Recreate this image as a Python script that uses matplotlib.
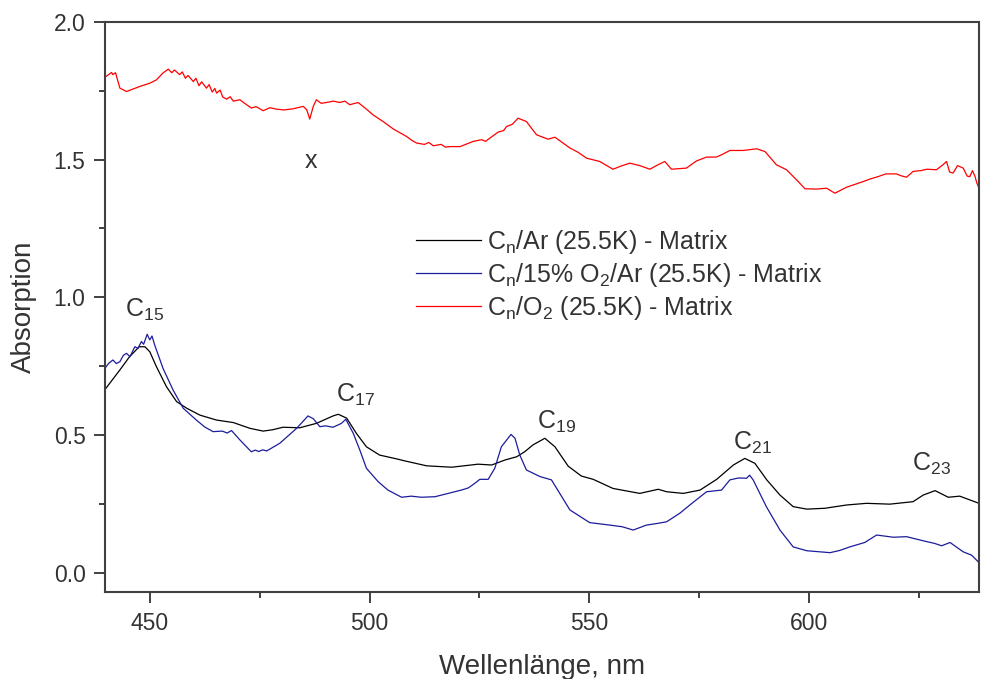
import numpy as np
import matplotlib
matplotlib.use("Agg")
import matplotlib.pyplot as plt

# Spektren (Wellenlaenge nm, Absorption)
ar_matrix = [
    (440.0, 0.670), (443.2, 0.737), (445.4, 0.785), (447.6, 0.821), (448.9, 0.821),
    (450.0, 0.803), (451.5, 0.749), (453.8, 0.676), (456.1, 0.622), (458.4, 0.598),
    (461.4, 0.573), (465.2, 0.555), (469.0, 0.546), (472.8, 0.525), (475.8, 0.515),
    (478.0, 0.520), (480.3, 0.529), (484.1, 0.527), (487.9, 0.543), (491.7, 0.570),
    (492.9, 0.576), (494.8, 0.562), (497.0, 0.507), (499.3, 0.458), (502.3, 0.428),
    (506.5, 0.413), (508.0, 0.407), (513.0, 0.389), (518.7, 0.384), (522.0, 0.390),
    (524.7, 0.395), (527.8, 0.392), (530.8, 0.410), (533.5, 0.422), (535.3, 0.440),
    (537.2, 0.465), (539.9, 0.489), (542.2, 0.458), (545.2, 0.388), (548.2, 0.352),
    (550.9, 0.340), (555.4, 0.307), (561.5, 0.289), (565.7, 0.304), (567.6, 0.295),
    (571.4, 0.289), (575.2, 0.301), (579.0, 0.340), (582.8, 0.392), (585.4, 0.416),
    (587.7, 0.398), (590.4, 0.338), (593.4, 0.283), (596.4, 0.241), (599.5, 0.232),
    (603.6, 0.235), (608.6, 0.247), (613.1, 0.253), (618.4, 0.250), (623.7, 0.259),
    (626.0, 0.283), (628.7, 0.299), (631.7, 0.275), (634.3, 0.279), (638.7, 0.253),
]

o2_15_ar_matrix = [
    (439.8, 0.743), (440.6, 0.760), (441.6, 0.773), (442.4, 0.760), (443.2, 0.767),
    (444.0, 0.790), (444.7, 0.797), (445.5, 0.785), (446.6, 0.821), (447.3, 0.815),
    (448.1, 0.840), (448.6, 0.830), (449.4, 0.866), (450.0, 0.846), (450.5, 0.860),
    (451.1, 0.828), (453.0, 0.743), (455.3, 0.664), (457.6, 0.598), (460.6, 0.555),
    (462.5, 0.530), (464.4, 0.513), (466.5, 0.515), (467.6, 0.508), (468.6, 0.517),
    (470.5, 0.483), (473.1, 0.440), (474.0, 0.446), (474.8, 0.441), (475.7, 0.447),
    (476.6, 0.443), (479.6, 0.471), (483.4, 0.525), (486.0, 0.570), (487.2, 0.560),
    (488.7, 0.531), (490.0, 0.534), (491.7, 0.529), (493.6, 0.543), (494.6, 0.558),
    (496.3, 0.507), (497.8, 0.446), (499.3, 0.380), (502.0, 0.331), (504.2, 0.301),
    (507.3, 0.275), (509.5, 0.279), (511.8, 0.275), (514.9, 0.277), (517.9, 0.289),
    (520.9, 0.301), (522.5, 0.309), (524.0, 0.326), (525.1, 0.340), (527.0, 0.340),
    (528.5, 0.380), (530.0, 0.458), (532.2, 0.503), (533.1, 0.489), (534.2, 0.428),
    (535.7, 0.374), (538.8, 0.350), (541.4, 0.338), (545.6, 0.229), (550.1, 0.183),
    (554.7, 0.174), (557.5, 0.168), (560.0, 0.156), (563.0, 0.174), (565.5, 0.180),
    (567.6, 0.186), (570.6, 0.217), (572.9, 0.247), (576.7, 0.295), (580.1, 0.301),
    (582.0, 0.338), (584.0, 0.345), (585.8, 0.344), (586.5, 0.355), (587.3, 0.338),
    (590.3, 0.241), (593.4, 0.156), (596.4, 0.095), (599.5, 0.081), (604.8, 0.074),
    (607.0, 0.082), (609.3, 0.095), (612.7, 0.111), (615.4, 0.138), (619.2, 0.130),
    (622.2, 0.132), (626.8, 0.114), (628.5, 0.108), (630.2, 0.099), (632.1, 0.111),
    (633.5, 0.095), (635.1, 0.077), (637.0, 0.065), (638.7, 0.038),
]

o2_matrix = [
    (440.0, 1.801), (441.3, 1.816), (441.6, 1.808), (442.2, 1.815), (443.2, 1.759),
    (444.7, 1.747), (446.2, 1.756), (447.7, 1.765), (450.0, 1.777), (451.5, 1.789),
    (453.0, 1.814), (454.2, 1.828), (455.0, 1.815), (455.6, 1.825), (456.8, 1.808),
    (457.4, 1.818), (458.1, 1.795), (458.7, 1.805), (459.9, 1.783), (460.5, 1.795),
    (461.2, 1.768), (461.8, 1.782), (462.9, 1.759), (463.5, 1.772), (464.2, 1.745),
    (464.8, 1.758), (465.2, 1.741), (466.0, 1.752), (466.6, 1.727), (467.5, 1.719),
    (468.3, 1.728), (469.0, 1.712), (470.5, 1.717), (471.5, 1.705), (473.1, 1.687),
    (474.2, 1.692), (475.8, 1.677), (477.3, 1.688), (478.8, 1.683), (480.5, 1.680),
    (482.6, 1.684), (484.9, 1.693), (485.7, 1.681), (486.4, 1.647), (487.2, 1.693),
    (487.9, 1.717), (489.0, 1.704), (490.2, 1.707), (491.8, 1.712), (493.2, 1.707),
    (494.4, 1.712), (495.5, 1.699), (497.4, 1.707), (499.3, 1.683), (500.8, 1.662),
    (503.1, 1.638), (505.4, 1.611), (508.4, 1.584), (509.6, 1.570), (510.7, 1.560),
    (512.5, 1.555), (513.5, 1.562), (514.5, 1.550), (516.3, 1.555), (517.3, 1.545),
    (518.3, 1.547), (520.6, 1.547), (522.0, 1.556), (523.6, 1.566), (525.5, 1.572),
    (526.4, 1.566), (527.4, 1.578), (529.3, 1.600), (530.5, 1.605), (531.2, 1.620),
    (532.5, 1.628), (533.8, 1.650), (535.7, 1.638), (538.0, 1.590), (540.6, 1.574),
    (542.2, 1.581), (545.6, 1.542), (547.5, 1.526), (549.4, 1.505), (552.4, 1.493),
    (555.4, 1.465), (557.0, 1.475), (559.2, 1.487), (561.5, 1.478), (563.8, 1.465),
    (565.5, 1.480), (567.2, 1.493), (568.7, 1.465), (572.1, 1.469), (574.4, 1.495),
    (576.7, 1.509), (578.9, 1.509), (580.2, 1.518), (582.0, 1.533), (585.0, 1.533),
    (588.1, 1.539), (590.0, 1.529), (592.6, 1.481), (594.9, 1.463), (597.2, 1.426),
    (599.1, 1.394), (601.7, 1.393), (604.0, 1.396), (605.9, 1.378), (608.6, 1.400),
    (612.3, 1.420), (614.0, 1.430), (615.7, 1.438), (617.5, 1.448), (619.9, 1.448),
    (621.0, 1.441), (622.2, 1.436), (623.7, 1.457), (625.5, 1.460), (626.8, 1.465),
    (629.0, 1.463), (630.4, 1.480), (631.3, 1.493), (632.0, 1.455), (632.8, 1.451),
    (633.8, 1.478), (635.1, 1.469), (636.0, 1.440), (636.6, 1.438), (637.2, 1.460),
    (637.8, 1.438), (638.2, 1.415), (638.7, 1.396),
]

labels = [
    r"C$_{n}$/Ar (25.5K) - Matrix",
    r"C$_{n}$/15% O$_{2}$/Ar (25.5K) - Matrix",
    r"C$_{n}$/O$_{2}$ (25.5K) - Matrix",
]
colors = ["#000000", "#1c1c9c", "#ff0000"]

# Peak-Beschriftungen (Text, x, y)
peaks = [
    ("C$_{15}$", 444.3, 0.930),
    ("C$_{17}$", 492.3, 0.622),
    ("C$_{19}$", 538.1, 0.522),
    ("C$_{21}$", 582.8, 0.446),
    ("C$_{23}$", 623.5, 0.371),
]

plt.rcParams["font.family"] = ["Liberation Sans", "DejaVu Sans"]
plt.rcParams["mathtext.default"] = "regular"
text_col = "#333333"
axis_col = "#404040"

fig = plt.figure(figsize=(9.81, 6.79), dpi=100)
ax = fig.add_axes([0.107, 0.128, 0.891, 0.840])

for data, lab, col in zip([ar_matrix, o2_15_ar_matrix, o2_matrix], labels, colors):
    x, y = np.array(data).T
    ax.plot(x, y, color=col, lw=0.9, label=lab)

for txt, px, py in peaks:
    ax.text(px, py, txt, fontsize=18, color=text_col, va="baseline", ha="left")

ax.text(486.6, 1.495, "x", fontsize=18, color=text_col, ha="center", va="center")

ax.set_xlim(439.8, 638.7)
ax.set_ylim(-0.069, 2.0)
ax.set_xticks([450, 500, 550, 600])
ax.set_xticks([475, 525, 575, 625], minor=True)
ax.set_yticks([0.0, 0.5, 1.0, 1.5, 2.0])
ax.set_yticks([0.25, 0.75, 1.25, 1.75], minor=True)
ax.set_yticklabels(["0.0", "0.5", "1.0", "1.5", "2.0"])

for s in ax.spines.values():
    s.set_color(axis_col)
    s.set_linewidth(1.5)
ax.tick_params(which="major", direction="out", length=8, width=1.4, color=axis_col,
               labelsize=16.5, labelcolor=text_col, pad=6)
ax.tick_params(which="minor", direction="out", length=4.5, width=1.4, color=axis_col)

ax.set_xlabel("Wellenlänge, nm", fontsize=20, color=text_col, labelpad=14)
ax.set_ylabel("Absorption", fontsize=20, color=text_col, labelpad=12)

leg = ax.legend(loc="upper left", bbox_to_anchor=(0.356, 0.638), frameon=False,
                fontsize=18, handlelength=2.6, handletextpad=0.25, labelspacing=0.2,
                borderaxespad=0, borderpad=0)
for t in leg.get_texts():
    t.set_color(text_col)

fig.savefig("out.png", dpi=100)
